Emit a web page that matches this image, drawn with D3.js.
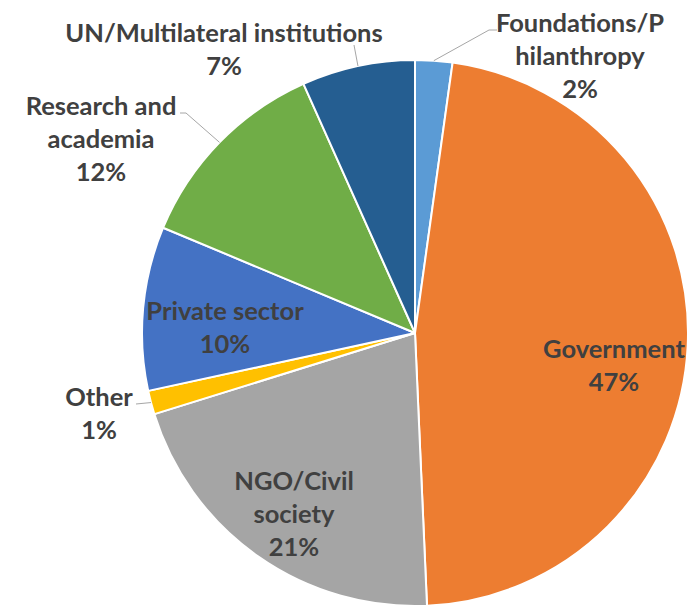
<!DOCTYPE html>
<html>
<head>
<meta charset="utf-8">
<script src="https://cdn.jsdelivr.net/npm/d3@7"></script>
<style>
    html, body { margin: 0; padding: 0; background: #fff; }
    svg { display: block; }
    .PieLabel { font-family: Lato, "Noto Sans", sans-serif; font-weight: bold; fill: #404040; }
</style>
</head>
<body>
<div id="chart"></div>
<script>
//----- DATA ---------------------------------------//
var categories = [
    'Foundations/P hilanthropy',
    'Government',
    'NGO/Civil society',
    'Other',
    'Private sector',
    'Research and academia',
    'UN/Multilateral institutions'
];
var values = [2.2, 47.1, 20.9, 1.4, 9.7, 12.0, 6.7];
var labelLines = [
    ['Foundations/P', 'hilanthropy'],
    ['Government'],
    ['NGO/Civil', 'society'],
    ['Other'],
    ['Private sector'],
    ['Research and', 'academia'],
    ['UN/Multilateral institutions']
];

var Chart = (function (d3) {
    'use strict';

        //----- SETTINGS -----------------------------------//
    var WIDTH = 689,
        HEIGHT = 609,
        CX = 415,
        CY = 333,
        RADIUS = 273,
        FONT_SIZE = 25.5,
        LINE_HEIGHT = 33,
        COLORS = ['#5B9BD5', '#ED7D31', '#A5A5A5', '#FFC000', '#4472C4', '#70AD47', '#255E91'],

        // label block: [dx, dy of first baseline] from the pie centre
        LABEL_POS = [
            [165, -301],
            [199, 25],
            [-121, 157],
            [-316, 73],
            [-190, -13],
            [-314, -218],
            [-191, -291]
        ],
        // leader line points after the slice edge (null = label inside)
        LEADERS = [
            [[74, -303], [82, -303]],
            null,
            null,
            [[-279, 71]],
            null,
            [[-229, -220], [-235, -220]],
            [[-61, -288]]
        ];

    return function draw(root) {
        var svg = d3.select(root).append('svg')
            .attr('width', WIDTH)
            .attr('height', HEIGHT);

        var g = svg.append('g')
            .attr('transform', 'translate(' + [CX, CY] + ')');

        var pie = d3.pie().sort(null).value(function (d) { return d; });
        var arcs = pie(values);
        var arc = d3.arc().innerRadius(0).outerRadius(RADIUS);
        var edge = d3.arc().innerRadius(RADIUS).outerRadius(RADIUS);

        //----- SLICES -------------------------------------//
        g.selectAll('path.slice')
            .data(arcs).enter()
            .append('path')
                .attr('class', 'slice')
                .attr('d', arc)
                .attr('fill', function (d, i) { return COLORS[i]; })
                .attr('stroke', '#fff')
                .attr('stroke-width', 2)
                .attr('stroke-linejoin', 'round');

        //----- LEADER LINES -------------------------------//
        g.selectAll('path.leader')
            .data(arcs.filter(function (d, i) { return LEADERS[i]; })).enter()
            .append('path')
                .attr('class', 'leader')
                .attr('fill', 'none')
                .attr('stroke', '#A6A6A6')
                .attr('stroke-width', 1)
                .attr('d', function (d) {
                    return d3.line()([edge.centroid(d)].concat(LEADERS[d.index]));
                });

        //----- LABELS -------------------------------------//
        var text = g.selectAll('text')
            .data(arcs).enter()
            .append('text')
                .attr('class', 'PieLabel')
                .attr('font-size', FONT_SIZE)
                .attr('text-anchor', 'middle')
                .attr('transform', function (d, i) { return 'translate(' + LABEL_POS[i] + ')'; });

        text.selectAll('tspan')
            .data(function (d, i) {
                return labelLines[i].concat([Math.round(d.value) + '%']);
            }).enter()
            .append('tspan')
                .attr('x', 0)
                .attr('y', function (line, i) { return i * LINE_HEIGHT; })
                .text(function (line) { return line; });
    };

})(d3);

Chart(document.getElementById('chart'));
</script>
</body>
</html>
